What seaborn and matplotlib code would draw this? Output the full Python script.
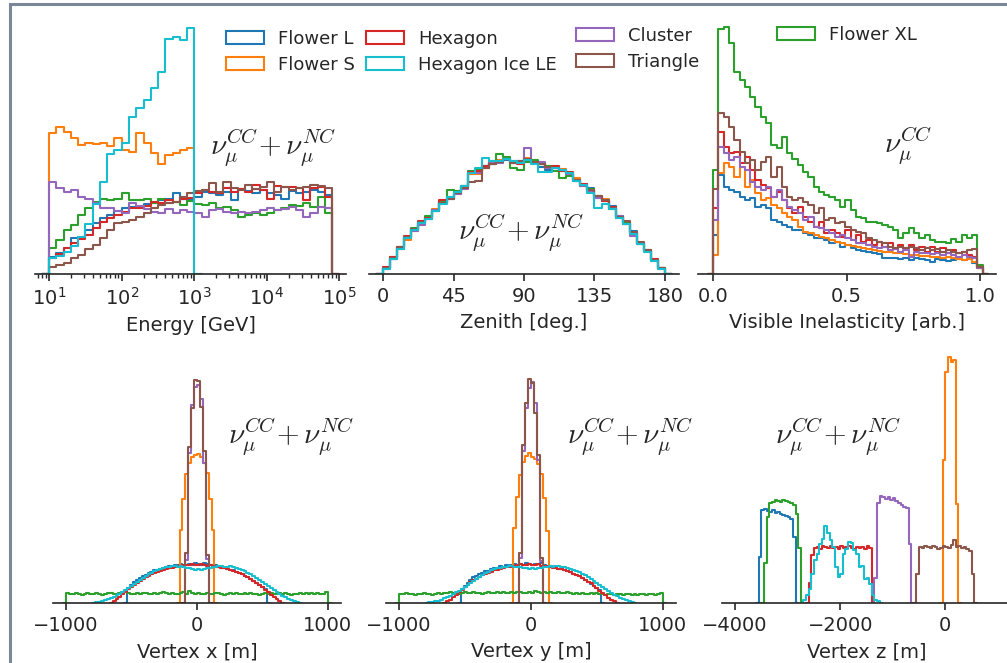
import numpy as np
import matplotlib
matplotlib.use("Agg")
import matplotlib.pyplot as plt
from matplotlib.patches import Patch, Rectangle
import seaborn as sns

# ------------------------------------
# Data (bin heights, arbitrary units)
# ------------------------------------
names = ["Flower L", "Flower S", "Flower XL", "Hexagon", "Cluster", "Triangle", "Hexagon Ice LE"]
colors = ["#1f77b4", "#ff7f0e", "#2ca02c", "#d62728", "#9467bd", "#8c564b", "#17becf"]

# Energy: log10 bins of 0.1 starting at 10^1
energy_start, energy_width = 1.0, 0.1
energy_blue = [17, 21, 26, 36, 37, 44, 51, 56, 59, 63, 66, 67, 67, 70, 71, 74, 75, 81, 75, 74,
               77, 82, 81, 79, 82, 74, 85, 83, 81, 84, 81, 79, 75, 83, 81, 82, 84, 82, 79]
energy_orange = [141, 147, 142, 136, 129, 131, 130, 131, 128, 136, 124, 122, 141, 131, 121, 110, 119, 121, 124, 126]
energy_green = [26, 34, 44, 49, 59, 66, 72, 75, 74, 75, 81, 74, 74, 75, 71, 75, 71, 72, 69, 73,
                70, 69, 71, 66, 67, 64, 57, 59, 61, 59, 61, 64, 66, 69, 68, 71, 67, 77, 61]
energy_red = [16, 20, 26, 31, 35, 39, 46, 52, 56, 59, 62, 66, 66, 68, 72, 71, 74, 72, 75, 76,
              81, 84, 82, 81, 86, 82, 85, 82, 89, 84, 75, 88, 87, 87, 86, 74, 86, 87, 77]
energy_purple = [92, 86, 82, 84, 77, 75, 71, 66, 66, 63, 61, 71, 68, 65, 62, 61, 65, 61, 64, 62,
                 61, 57, 64, 65, 62, 61, 62, 61, 62, 64, 66, 64, 65, 67, 64, 57, 61, 67, 66]
energy_brown = [7, 9, 11, 16, 19, 25, 29, 36, 44, 51, 52, 54, 57, 61, 66, 69, 71, 72, 77, 81,
                83, 84, 91, 82, 92, 86, 84, 89, 85, 87, 92, 82, 87, 84, 86, 87, 89, 88, 86]
energy_cyan = [16, 18, 22, 28, 37, 50, 70, 92, 120, 124, 131, 157, 166, 174, 186, 202, 235, 237, 234, 246]

# Zenith: 4.5 deg bins from 0
zenith_start, zenith_width = 0.0, 4.5
zenith_blue = [5, 15, 27, 36, 45, 52, 57, 63, 71, 77, 82, 88, 100, 103, 108, 110, 112, 114, 113, 111,
               114, 113, 107, 104, 106, 103, 100, 95, 90, 86, 78, 73, 68, 58, 52, 43, 30, 23, 14, 6]
zenith_orange = [6, 16, 25, 34, 43, 52, 56, 65, 72, 75, 80, 88, 100, 100, 106, 112, 114, 115, 111, 113,
                 116, 112, 110, 108, 107, 105, 101, 96, 89, 84, 78, 75, 65, 57, 50, 40, 31, 23, 13, 5]
zenith_green = [6, 17, 26, 37, 46, 50, 58, 64, 73, 84, 83, 88, 103, 104, 108, 113, 120, 117, 106, 104,
                112, 114, 110, 108, 103, 96, 98, 93, 88, 85, 76, 73, 65, 56, 51, 41, 31, 24, 14, 6]
zenith_red = [7, 17, 27, 38, 44, 53, 56, 64, 74, 76, 81, 86, 102, 103, 108, 110, 113, 115, 112, 110,
              114, 111, 111, 106, 108, 103, 102, 93, 90, 83, 77, 73, 67, 57, 50, 41, 31, 24, 15, 6]
zenith_purple = [6, 15, 25, 37, 43, 49, 55, 64, 71, 75, 80, 85, 101, 101, 106, 111, 111, 115, 111, 113,
                 126, 111, 112, 106, 106, 104, 100, 94, 88, 83, 76, 74, 66, 58, 50, 38, 30, 23, 14, 6]
zenith_brown = [6, 16, 27, 37, 45, 52, 55, 63, 71, 75, 81, 86, 92, 93, 106, 110, 112, 115, 111, 113,
                115, 112, 110, 107, 106, 104, 101, 94, 89, 84, 78, 74, 66, 57, 53, 42, 32, 24, 14, 6]
zenith_cyan = [5, 15, 25, 36, 44, 51, 55, 63, 70, 77, 82, 88, 101, 106, 116, 113, 113, 115, 113, 111,
               114, 110, 102, 102, 106, 104, 101, 93, 89, 81, 66, 70, 65, 56, 50, 40, 30, 22, 13, 5]

# Visible inelasticity: 51 bins from 0 to 1.01
inel_start, inel_width = 0.0, 1.01 / 51
inel_blue = [39, 99, 87, 84, 82, 77, 74, 76, 67, 69, 66, 54, 52, 49, 47, 44, 44, 41, 39, 36,
             36, 34, 31, 32, 27, 29, 26, 24, 23, 22, 21, 20, 16, 16, 16, 15, 16, 14, 16, 15,
             14, 12, 15, 14, 13, 14, 15, 14, 15, 11, 6]
inel_orange = [19, 101, 111, 107, 97, 107, 87, 94, 81, 74, 76, 69, 66, 61, 57, 54, 47, 42, 41, 39,
               37, 36, 34, 32, 31, 29, 28, 27, 26, 25, 24, 23, 22, 22, 21, 21, 20, 19, 19, 18,
               18, 17, 17, 16, 17, 16, 15, 14, 15, 12, 6]
inel_green = [104, 245, 247, 231, 202, 194, 187, 177, 167, 157, 151, 129, 126, 137, 121, 115, 109, 102, 97, 87,
              82, 79, 77, 74, 67, 74, 64, 57, 56, 52, 52, 51, 49, 47, 44, 36, 41, 46, 41, 36,
              39, 34, 32, 32, 31, 35, 32, 39, 36, 39, 9]
inel_red = [66, 142, 127, 121, 122, 111, 117, 104, 94, 89, 86, 77, 82, 74, 66, 61, 67, 57, 52, 47,
            52, 41, 44, 41, 37, 44, 34, 39, 32, 34, 29, 32, 27, 31, 26, 29, 26, 29, 24, 27,
            22, 27, 22, 26, 21, 24, 21, 22, 19, 17, 7]
inel_purple = [54, 127, 121, 114, 117, 107, 104, 92, 87, 84, 87, 77, 84, 74, 67, 64, 61, 54, 57, 47,
               46, 44, 41, 37, 39, 36, 34, 31, 31, 29, 27, 26, 27, 24, 25, 22, 24, 17, 22, 21,
               21, 20, 21, 19, 21, 19, 17, 19, 17, 16, 6]
inel_brown = [85, 161, 157, 147, 134, 122, 111, 114, 104, 112, 117, 97, 107, 87, 77, 74, 76, 72, 69, 61,
              66, 54, 56, 51, 52, 47, 44, 42, 41, 36, 34, 32, 31, 27, 26, 27, 26, 27, 26, 24,
              26, 24, 25, 22, 24, 22, 21, 22, 24, 25, 7]

# Vertex x / y: bins of 2000/90 m, first edge given per series
vtx_width = 2000 / 90
vx_blue_start, vx_red_start, vx_cyan_start = -24 * vtx_width, -29 * vtx_width, -35 * vtx_width
vx_green_start, vx_narrow_start, vx_orange_start = -45 * vtx_width, -4 * vtx_width, -6 * vtx_width

vx_blue = [15, 18, 21, 23, 25, 27, 28, 30, 31, 33, 33, 34, 35, 36, 37, 36, 38, 38, 39, 37,
           38, 39, 38, 40, 39, 38, 40, 39, 38, 37, 38, 36, 36, 35, 34, 33, 33, 31, 30, 29,
           27, 26, 24, 22, 20, 18, 16, 14]
vx_red = [2, 4, 6, 9, 11, 14, 16, 18, 20, 22, 24, 26, 27, 29, 30, 31, 32, 33, 34, 35,
          35, 36, 37, 37, 38, 38, 38, 39, 38, 38, 39, 38, 37, 38, 37, 36, 36, 35, 35, 34,
          33, 32, 31, 30, 29, 27, 26, 24, 22, 20, 18, 16, 13, 11, 8, 6, 4, 2]
vx_cyan = [1, 1, 2, 3, 4, 5, 6, 8, 9, 11, 13, 15, 17, 19, 21, 23, 25, 27, 29, 30,
           32, 33, 34, 35, 36, 36, 37, 37, 36, 37, 36, 35, 35, 34, 33, 34, 33, 34, 35, 35,
           36, 36, 37, 37, 36, 36, 37, 36, 35, 34, 33, 32, 30, 29, 27, 25, 23, 21, 19, 17,
           15, 13, 11, 9, 7, 6, 4, 3, 2, 1]
vx_green = [10, 9, 9, 10, 9, 8, 9, 10, 9, 9, 10, 9, 8, 9, 10, 10, 9, 9, 10, 11,
            11, 10, 9, 9, 10, 9, 10, 10, 9, 9, 10, 9, 10, 11, 10, 9, 10, 9, 9, 10,
            11, 9, 12, 10, 9, 10, 9, 9, 10, 9, 9, 10, 10, 9, 8, 9, 10, 9, 10, 9,
            9, 10, 9, 10, 9, 9, 8, 9, 10, 9, 10, 9, 9, 10, 9, 10, 9, 8, 9, 9,
            10, 9, 10, 9, 10, 9, 10, 9, 9, 11]
vx_purple = [43, 150, 198, 216, 218, 204, 140, 44]
vx_brown = [50, 156, 195, 223, 222, 196, 152, 48]
vx_orange = [73, 104, 129, 140, 146, 148, 149, 146, 140, 130, 104, 73]

vy_blue = [14, 17, 20, 23, 26, 27, 29, 30, 32, 32, 34, 35, 35, 37, 36, 38, 37, 38, 39, 38,
           39, 38, 40, 39, 38, 39, 39, 40, 38, 37, 37, 36, 36, 34, 34, 33, 32, 31, 29, 28,
           27, 25, 23, 21, 19, 17, 15, 13]
vy_red = [2, 3, 6, 8, 11, 13, 16, 18, 21, 23, 24, 26, 28, 29, 30, 31, 33, 33, 34, 35,
          36, 36, 36, 37, 38, 39, 38, 38, 39, 38, 38, 39, 37, 37, 37, 36, 35, 35, 34, 34,
          33, 32, 31, 29, 28, 27, 25, 23, 21, 20, 17, 15, 12, 10, 8, 5, 3, 2]
vy_cyan = [1, 1, 2, 2, 3, 5, 6, 7, 9, 11, 12, 14, 16, 18, 20, 22, 24, 26, 28, 30,
           31, 33, 34, 35, 35, 36, 36, 37, 37, 36, 36, 36, 35, 35, 34, 35, 34, 35, 35, 36,
           36, 37, 36, 37, 37, 36, 36, 35, 34, 33, 32, 31, 29, 28, 26, 24, 22, 20, 18, 16,
           14, 12, 10, 8, 7, 5, 4, 3, 2, 1]
vy_green = [9, 9, 10, 9, 9, 8, 9, 9, 10, 9, 9, 8, 9, 10, 9, 10, 10, 11, 10, 10,
            9, 10, 11, 10, 10, 11, 10, 10, 9, 10, 11, 10, 10, 11, 10, 11, 10, 10, 11, 10,
            11, 11, 10, 10, 11, 10, 12, 11, 10, 11, 10, 11, 10, 10, 11, 10, 10, 11, 10, 9,
            10, 9, 10, 9, 9, 10, 9, 10, 9, 9, 8, 9, 9, 8, 9, 9, 8, 9, 9, 8,
            9, 8, 9, 9, 8, 9, 9, 8, 9, 10]
vy_purple = [45, 152, 195, 215, 221, 200, 143, 42]
vy_brown = [50, 158, 200, 224, 220, 190, 148, 45]
vy_orange = [75, 106, 128, 141, 147, 150, 146, 144, 139, 129, 105, 72]

# Vertex z: 50 m bins, first edge per series
vz_width = 50
vz_blue_start, vz_orange_start, vz_green_start = -3550, -50, -3450
vz_red_start, vz_purple_start, vz_brown_start, vz_cyan_start = -2600, -1350, -550, -2700
vz_blue = [46, 93, 94, 92, 91, 93, 90, 91, 89, 88, 87, 86, 84, 66]
vz_orange = [143, 231, 246, 241, 243, 99]
vz_green = [40, 86, 100, 101, 103, 102, 101, 103, 102, 101, 100, 98, 89, 55]
vz_red = [20, 48, 55, 56, 54, 57, 56, 55, 57, 55, 56, 54, 57, 55, 56, 57, 55, 54, 56, 55, 56, 54, 57, 55]
vz_purple = [25, 100, 107, 106, 104, 106, 103, 105, 102, 100, 98, 96, 95, 59]
vz_brown = [29, 56, 55, 57, 56, 55, 57, 56, 54, 55, 57, 56, 55, 58, 63, 56, 57, 55, 56, 54, 52, 29]
vz_cyan = [3, 8, 14, 29, 43, 49, 59, 64, 77, 70, 63, 56, 36, 26, 29, 49, 54, 61, 60, 53,
           49, 36, 37, 24, 25, 19, 8, 3, 2]


# ------------------------------------
# Setup
# ------------------------------------
sns.set_style("ticks")
plt.rcParams["font.family"] = ["DejaVu Sans"]
plt.rcParams["mathtext.fontset"] = "cm"

W, H = 1007, 663
FS = 14
LEG_FS = 13
LW = 1.5
fig = plt.figure(figsize=(W / 100, H / 100), dpi=100)


def px_axes(left, right, bottom, top):
    return fig.add_axes([left / W, 1 - bottom / H, (right - left) / W, (bottom - top) / H])


def step_hist(ax, start, width, vals, color, log=False):
    vals = np.concatenate([[0], vals, [0]])
    edges = start + width * np.arange(-1, len(vals))
    centers = (edges[:-1] + edges[1:]) / 2
    if log:
        sns.histplot(x=10 ** centers, weights=vals, bins=list(edges), log_scale=True,
                     element="step", fill=False, color=color, lw=LW, ax=ax)
    else:
        sns.histplot(x=centers, weights=vals, bins=list(edges),
                     element="step", fill=False, color=color, lw=LW, ax=ax)


def style(ax, xlabel, xlim, ticks=None):
    ax.set_xlim(*xlim)
    ax.set_ylim(0, 254)
    if ticks is not None:
        ax.set_xticks(ticks)
    ax.set_yticks([])
    ax.set_ylabel("")
    ax.set_xlabel(xlabel, fontsize=FS, labelpad=5)
    sns.despine(ax=ax, left=True)
    ax.spines["bottom"].set_linewidth(1.2)
    ax.tick_params(axis="x", which="major", labelsize=FS, width=1.2, length=5, pad=4.5)
    ax.tick_params(axis="x", which="minor", width=1.0, length=3)


# ------------------------------------
# Top row
# ------------------------------------
ax1 = px_axes(35, 346, 274, 20)
for vals, c in [(energy_blue, colors[0]), (energy_orange, colors[1]), (energy_green, colors[2]),
                (energy_red, colors[3]), (energy_purple, colors[4]), (energy_brown, colors[5]),
                (energy_cyan, colors[6])]:
    step_hist(ax1, energy_start, energy_width, vals, c, log=True)
style(ax1, "Energy [GeV]", (10 ** 0.805, 10 ** 5.09))

ax2 = px_axes(369, 679, 274, 20)
for vals, c in zip([zenith_blue, zenith_orange, zenith_green, zenith_red,
                    zenith_purple, zenith_brown, zenith_cyan], colors):
    step_hist(ax2, zenith_start, zenith_width, vals, c)
style(ax2, "Zenith [deg.]", (-9, 189), [0, 45, 90, 135, 180])

ax3 = px_axes(698, 996, 274, 20)
for vals, c in zip([inel_blue, inel_orange, inel_green, inel_red, inel_purple, inel_brown], colors):
    step_hist(ax3, inel_start, inel_width, vals, c)
style(ax3, "Visible Inelasticity [arb.]", (-0.057, 1.06), [0.0, 0.5, 1.0])

# ------------------------------------
# Bottom row
# ------------------------------------
ax4 = px_axes(53, 341, 603, 349)
for start, vals, c in [(vx_blue_start, vx_blue, colors[0]), (vx_orange_start, vx_orange, colors[1]),
                       (vx_green_start, vx_green, colors[2]), (vx_red_start, vx_red, colors[3]),
                       (vx_narrow_start, vx_purple, colors[4]), (vx_narrow_start, vx_brown, colors[5]),
                       (vx_cyan_start, vx_cyan, colors[6])]:
    step_hist(ax4, start, vtx_width, vals, c)
style(ax4, "Vertex x [m]", (-1100, 1100), [-1000, 0, 1000])

ax5 = px_axes(386, 676, 603, 349)
for start, vals, c in [(vx_blue_start, vy_blue, colors[0]), (vx_orange_start, vy_orange, colors[1]),
                       (vx_green_start, vy_green, colors[2]), (vx_red_start, vy_red, colors[3]),
                       (vx_narrow_start, vy_purple, colors[4]), (vx_narrow_start, vy_brown, colors[5]),
                       (vx_cyan_start, vy_cyan, colors[6])]:
    step_hist(ax5, start, vtx_width, vals, c)
style(ax5, "Vertex y [m]", (-1100, 1100), [-1000, 0, 1000])

ax6 = px_axes(722, 1011, 603, 349)
for start, vals, c in [(vz_blue_start, vz_blue, colors[0]), (vz_orange_start, vz_orange, colors[1]),
                       (vz_green_start, vz_green, colors[2]), (vz_red_start, vz_red, colors[3]),
                       (vz_purple_start, vz_purple, colors[4]), (vz_brown_start, vz_brown, colors[5]),
                       (vz_cyan_start, vz_cyan, colors[6])]:
    step_hist(ax6, start, vz_width, vals, c)
style(ax6, "Vertex z [m]", (-4250, 1250), [-4000, -2000, 0])

# ------------------------------------
# Annotations
# ------------------------------------
both = r"$\nu_\mu^{CC}\!+\nu_\mu^{NC}$"
for x, y, s in [(273, 148, both), (521, 233, both), (908, 146, r"$\nu_\mu^{CC}$"),
                (291, 437, both), (630, 437, both), (838, 437, both)]:
    fig.text(x / W, 1 - y / H, s, ha="center", va="center", fontsize=21)

# ------------------------------------
# Legends (one per column)
# ------------------------------------
handles = [Patch(facecolor="none", edgecolor=c, lw=LW) for c in colors]
leg_kw = dict(loc="upper left", frameon=False, fontsize=LEG_FS, handlelength=2.1,
              handletextpad=0.8, labelspacing=0.42, borderpad=0, borderaxespad=0)
for idx, x, y in [([0, 1], 226, 30), ([3, 6], 366, 30), ([4, 5], 576, 27), ([2], 777, 26)]:
    fig.legend([handles[i] for i in idx], [names[i] for i in idx],
               bbox_to_anchor=(x / W, 1 - y / H), **leg_kw)

# Frame
fig.add_artist(Rectangle((9.5 / W, -0.1), 1.2, 1.1 - 4.5 / H, transform=fig.transFigure,
                         fill=False, edgecolor="#7a8797", lw=2.2, clip_on=False))

fig.savefig("out.png", dpi=100)
